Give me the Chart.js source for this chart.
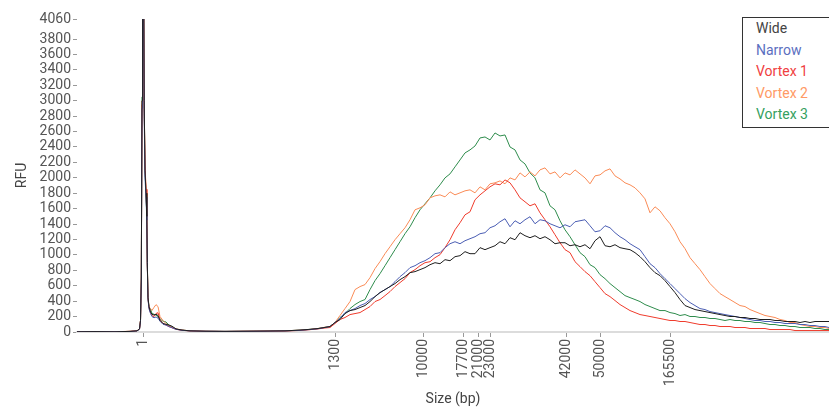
<!DOCTYPE html>
<html>
<head>
<meta charset="utf-8">
<script src="https://cdn.jsdelivr.net/npm/chart.js@4.4.1/dist/chart.umd.min.js"></script>
<style>
  body { margin: 0; overflow: hidden; background: #fff; font-family: Roboto, sans-serif; }
  #wrap { position: relative; width: 829px; height: 412px; overflow: hidden; }
  #legend { position: absolute; left: 742px; top: 17px; width: 110px; height: 111px; border: 1px solid #333; background: #fff; box-sizing: border-box; padding: 0 0 0 13px; }
  #legend div { font-size: 14px; line-height: 21.5px; white-space: nowrap; }
</style>
</head>
<body>
<div id="wrap">
  <canvas id="traceChart" width="829" height="412"></canvas>
  <div id="legend"></div>
</div>
<script>
// migration position of each sample (same units as the x scale)
const positions = [
  77, 95, 115, 130, 137, 139.5, 140.5, 141.3, 142, 142.6, 143.6, 144.2, 145, 146, 146.8, 147.3, 148, 149, 150.5, 152,
  154, 156, 158, 160, 163, 166, 169, 172, 176, 182, 190, 205, 225, 245, 265, 285, 300, 310, 318, 325,
  330, 335, 340, 345, 350, 355, 360, 365, 370, 375, 380, 385, 390, 395, 400, 405, 410, 415, 420, 425,
  430, 435, 440, 445, 450, 455, 460, 465, 470, 475, 480, 485, 490, 495, 500, 505, 510, 515, 520, 525,
  530, 535, 540, 545, 550, 555, 560, 565, 570, 575, 580, 585, 590, 595, 600, 605, 610, 615, 620, 625,
  630, 635, 640, 645, 650, 655, 660, 665, 670, 675, 680, 685, 690, 695, 700, 705, 710, 715, 720, 725,
  730, 735, 740, 745, 750, 755, 760, 765, 770, 775, 780, 785, 790, 795, 800, 805, 810, 815, 820, 825, 829
];

// RFU values per sample
const wide = [
  3, 5, 3, 8, 15, 40, 150, 700, 3000, 4800, 4800, 3000, 2100, 1800, 1500, 900, 450, 330, 260, 230,
  220, 230, 215, 150, 110, 100, 90, 75, 40, 25, 15, 10, 8, 10, 12, 15, 25, 35, 45, 60,
  71, 123, 162, 239, 278, 291, 317, 343, 395, 459, 511, 550, 589, 628, 679, 718, 770, 783, 809, 835,
  873, 899, 886, 938, 925, 977, 990, 1042, 1016, 1016, 1094, 1068, 1094, 1119, 1171, 1145, 1223, 1197, 1288, 1249,
  1223, 1249, 1210, 1236, 1197, 1145, 1158, 1158, 1119, 1132, 1106, 1132, 1080, 1184, 1236, 1119, 1106, 1132, 1094, 1080,
  1068, 1029, 977, 912, 835, 770, 731, 666, 589, 511, 421, 343, 317, 291, 278, 265, 252, 239, 226, 214,
  201, 201, 188, 188, 175, 175, 162, 162, 162, 149, 149, 136, 136, 136, 123, 136, 123, 136, 136, 136, 136
];
const narrow = [
  3, 4, 3, 7, 14, 35, 140, 650, 2900, 4700, 4600, 2800, 2000, 1750, 1450, 850, 420, 300, 240, 200,
  185, 195, 180, 140, 100, 90, 70, 55, 35, 22, 14, 10, 8, 9, 11, 14, 22, 32, 42, 58,
  71, 123, 175, 252, 278, 304, 343, 369, 421, 459, 511, 550, 589, 653, 718, 770, 835, 860, 899, 925,
  964, 1016, 1029, 1094, 1145, 1171, 1145, 1184, 1210, 1236, 1275, 1288, 1352, 1378, 1430, 1469, 1365, 1443, 1404, 1456,
  1495, 1404, 1456, 1443, 1404, 1378, 1352, 1391, 1365, 1430, 1443, 1456, 1378, 1300, 1313, 1378, 1352, 1288, 1236, 1197,
  1145, 1106, 1068, 977, 886, 835, 757, 692, 628, 563, 498, 433, 382, 343, 304, 291, 265, 252, 239, 226,
  214, 201, 188, 175, 162, 149, 149, 136, 136, 123, 123, 110, 110, 110, 97, 97, 84, 84, 71, 71, 58
];
const vortex1 = [
  4, 5, 3, 8, 15, 38, 145, 680, 2950, 4700, 4700, 2900, 2150, 1850, 1500, 880, 430, 310, 250, 210,
  200, 240, 250, 160, 110, 90, 70, 55, 35, 22, 14, 9, 7, 9, 11, 13, 20, 30, 40, 52,
  58, 110, 162, 188, 226, 239, 252, 291, 330, 395, 421, 472, 524, 589, 641, 692, 770, 809, 860, 899,
  912, 964, 1003, 1094, 1197, 1326, 1417, 1520, 1559, 1715, 1779, 1831, 1883, 1922, 1909, 1973, 1935, 1844, 1740, 1689,
  1637, 1663, 1546, 1456, 1365, 1262, 1158, 1068, 1029, 912, 848, 783, 731, 653, 576, 498, 459, 408, 356, 317,
  278, 252, 226, 214, 201, 188, 175, 162, 149, 149, 136, 136, 123, 110, 97, 97, 84, 84, 71, 71,
  71, 58, 58, 58, 45, 45, 45, 45, 32, 32, 32, 32, 32, 19, 19, 19, 19, 19, 19, 19, 19
];
const vortex2 = [
  4, 6, 4, 9, 16, 42, 150, 700, 3000, 4750, 4750, 2950, 2200, 1850, 1550, 900, 450, 330, 300, 280,
  320, 355, 330, 200, 150, 110, 80, 60, 40, 25, 15, 10, 8, 10, 12, 15, 24, 34, 46, 62,
  71, 123, 214, 304, 395, 550, 589, 615, 705, 822, 913, 1016, 1106, 1197, 1275, 1352, 1456, 1585, 1611, 1650,
  1740, 1766, 1779, 1753, 1818, 1779, 1805, 1831, 1844, 1805, 1883, 1844, 1922, 1935, 1960, 1922, 1999, 1973, 2064, 2012,
  2077, 2025, 2103, 2129, 2051, 2077, 1999, 2064, 2038, 2103, 2051, 1999, 1922, 2025, 2038, 2090, 2116, 2025, 1986, 1935,
  1909, 1870, 1805, 1727, 1546, 1624, 1572, 1482, 1404, 1300, 1171, 1081, 964, 886, 809, 718, 628, 563, 498, 459,
  421, 382, 343, 330, 291, 265, 239, 214, 201, 188, 162, 149, 123, 123, 97, 84, 71, 71, 58, 58, 45
];
const vortex3 = [
  3, 5, 3, 8, 15, 40, 150, 720, 3050, 4800, 4800, 3000, 2100, 1800, 1500, 900, 440, 320, 300, 240,
  230, 220, 200, 170, 140, 130, 90, 65, 38, 24, 15, 10, 8, 10, 12, 15, 24, 34, 44, 60,
  71, 123, 188, 239, 304, 356, 395, 421, 550, 666, 757, 860, 964, 1068, 1171, 1275, 1365, 1482, 1585, 1663,
  1740, 1831, 1909, 1999, 2051, 2142, 2232, 2323, 2362, 2413, 2517, 2530, 2491, 2582, 2543, 2556, 2400, 2362, 2232, 2180,
  2064, 1999, 1844, 1805, 1637, 1585, 1443, 1326, 1236, 1132, 1029, 977, 873, 835, 744, 692, 628, 576, 524, 472,
  446, 421, 395, 356, 330, 304, 278, 278, 252, 239, 214, 226, 201, 201, 188, 188, 175, 175, 162, 149,
  162, 149, 149, 136, 136, 123, 123, 110, 97, 97, 84, 84, 71, 71, 58, 58, 58, 45, 45, 32, 32
];

// size ladder ticks: where they sit on the position axis, and their labels
const sizeTickPositions = [143, 335, 423, 463, 478, 490, 566, 600, 670];
const sizeTickLabels = ['1', '1300', '10000', '17700', '21000', '23000', '42000', '50000', '165500'];
const rfuTicks = [0, 200, 400, 600, 800, 1000, 1200, 1400, 1600, 1800, 2000, 2200, 2400, 2600, 2800, 3000, 3200, 3400, 3600, 3800, 4060];

const seriesNames = ['Wide', 'Narrow', 'Vortex 1', 'Vortex 2', 'Vortex 3'];
const seriesValues = [wide, narrow, vortex1, vortex2, vortex3];
const lineColors = ['#1e1e1e', '#4a5db3', '#ef3b2c', '#fa8b56', '#2e8c4c'];
const legendColors = ['#444444', '#5b6fbf', '#f0403f', '#ff9a66', '#35a060'];

const datasets = seriesValues.map((vals, i) => ({
  label: seriesNames[i],
  data: vals.map((v, j) => ({ x: positions[j], y: v })),
  borderColor: lineColors[i],
  borderWidth: 1,
  pointRadius: 0,
  tension: 0,
  fill: false,
}));

// legend box (top right)
const legendEl = document.getElementById('legend');
seriesNames.forEach((name, i) => {
  const row = document.createElement('div');
  row.textContent = name;
  row.style.color = legendColors[i];
  legendEl.appendChild(row);
});

const ctx = document.getElementById('traceChart').getContext('2d');
new Chart(ctx, {
  type: 'line',
  data: { datasets: datasets },
  options: {
    responsive: false,
    animation: false,
    layout: { padding: { top: 19, right: 0, bottom: 0, left: 0 } },
    plugins: {
      legend: { display: false },
      tooltip: { enabled: false },
    },
    scales: {
      x: {
        type: 'linear',
        min: 77,
        max: 829,
        afterBuildTicks: (scale) => {
          scale.ticks = sizeTickPositions.map((v) => ({ value: v }));
        },
        afterFit: (scale) => {
          scale.height = 80;
        },
        ticks: {
          autoSkip: false,
          minRotation: 90,
          maxRotation: 90,
          padding: 2,
          color: '#555',
          font: { family: 'Roboto', size: 14 },
          callback: (value, index) => sizeTickLabels[index],
        },
        grid: {
          drawOnChartArea: false,
          drawTicks: true,
          tickLength: 5,
          color: '#999',
        },
        border: { display: true, color: '#dcdcdc', width: 2 },
        title: {
          display: true,
          text: 'Size (bp)',
          color: '#444',
          font: { family: 'Roboto', size: 14 },
          padding: { top: 0, bottom: 4 },
        },
      },
      y: {
        min: 0,
        max: 4060,
        afterBuildTicks: (scale) => {
          scale.ticks = rfuTicks.map((v) => ({ value: v }));
        },
        afterFit: (scale) => {
          scale.width = 77;
        },
        ticks: {
          autoSkip: false,
          padding: 2,
          color: '#555',
          font: { family: 'Roboto', size: 14 },
          callback: (value) => String(value),
        },
        grid: {
          drawOnChartArea: false,
          drawTicks: true,
          tickLength: 4,
          color: '#999',
        },
        border: { display: false },
        title: {
          display: true,
          text: 'RFU',
          color: '#444',
          font: { family: 'Roboto', size: 14 },
          padding: { top: 14, bottom: 0 },
        },
      },
    },
  },
});
</script>
</body>
</html>
